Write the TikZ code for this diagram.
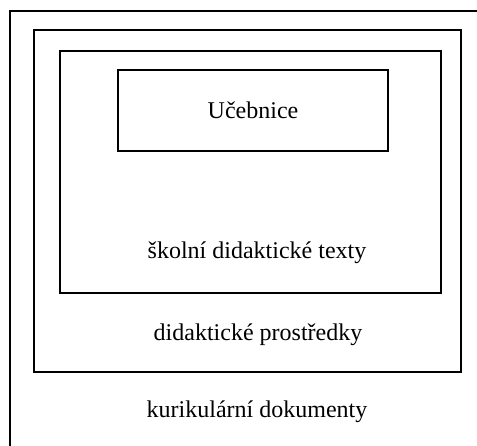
\documentclass[tikz,border=0pt]{standalone}
\usepackage{fontspec}
\setmainfont{Liberation Serif}
\usetikzlibrary{positioning}

\begin{document}
\begin{tikzpicture}[x=1pt,y=-1pt,
 every node/.style={font=\fontsize{24}{28}\selectfont,align=center},
 layer/.style={draw,line width=1.6pt,inner sep=0pt}]
    \clip (0,0) rectangle (477,445);
    % nested frames, outermost cut by the page edge
    \node[layer,minimum width=500pt,minimum height=470pt] (kurikul) at (260,246) {};
    \node[layer,minimum width=427pt,minimum height=342pt] (prostredky) at (247.5,201) {};
    \node[layer,minimum width=381pt,minimum height=242pt] (texty) at (250.5,172) {};
    \node[layer,minimum width=270pt,minimum height=81pt] (ucebnice) at (253,110.5) {Učebnice};
    % captions in the free space of each frame
    \node (textyname) at (257,253) {školní didaktické texty};
    \node (prostredkyname) at (258,335) {didaktické prostředky};
    \node (kurikulname) at (257,412) {kurikulární dokumenty};
\end{tikzpicture}
\end{document}
